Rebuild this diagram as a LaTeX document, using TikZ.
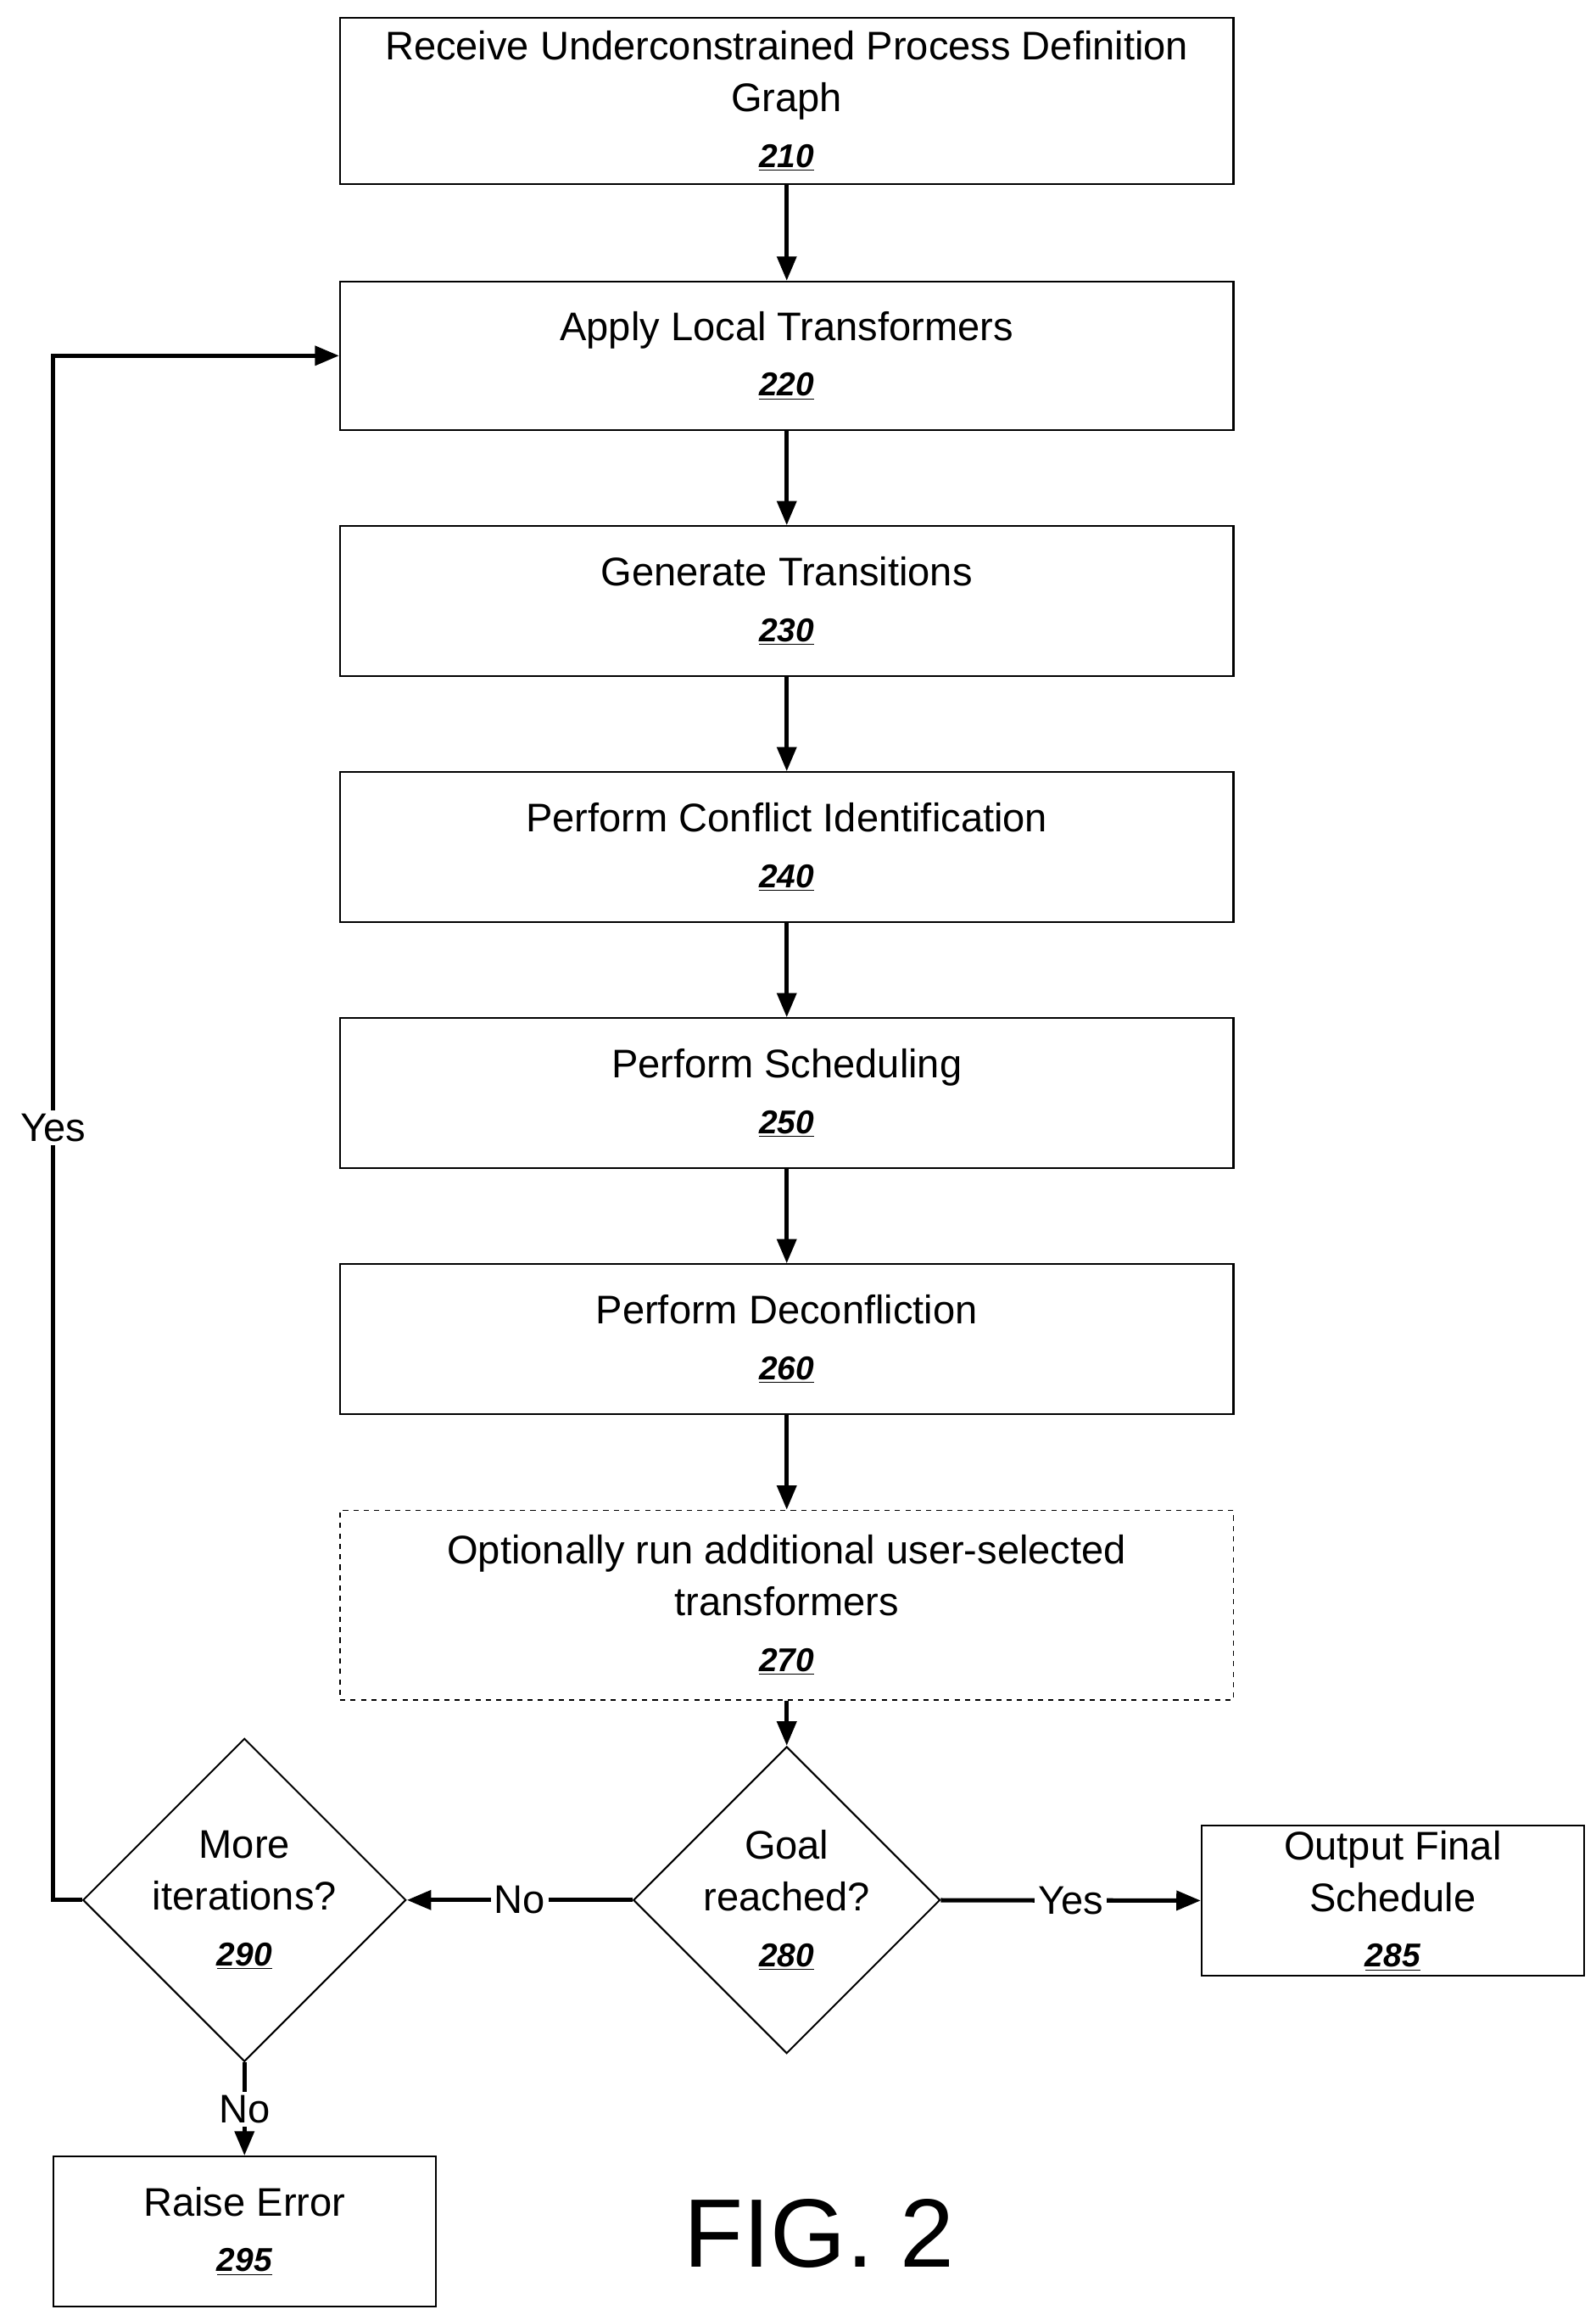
\documentclass[tikz,border=0pt]{standalone}
\usepackage{fontspec}
\setmainfont{Liberation Sans}
\usetikzlibrary{shapes.geometric,arrows.meta}
\newcommand{\stepnum}[1]{\\[2pt]{\fontsize{19}{22}\selectfont\textbf{\textit{\underline{#1}}}}}
\tikzset{
    stage/.style = {draw, line width=1pt, minimum width=18.09cm, align=center,
        font=\fontsize{23}{30}\selectfont, inner sep=0pt},
    choice/.style = {draw, diamond, line width=1pt, minimum width=5.1cm, minimum height=5.1cm,
        inner sep=0pt, align=center, font=\fontsize{23}{30}\selectfont},
    flow/.style = {-{Triangle[length=14pt,width=11pt]}, line width=2.5pt},
    tag/.style = {fill=white, inner sep=2pt, font=\fontsize{23}{30}\selectfont}
}

\begin{document}
\begin{tikzpicture}[x=0.03cm, y=-0.03cm]
    \useasboundingbox (0,0) rectangle (1077,1562);
    \node[stage, minimum height=3.36cm] (recv) at (531,68) {Receive Underconstrained Process Definition\\Graph\stepnum{210}};
    \node[stage, minimum height=3cm] (local) at (531,240) {Apply Local Transformers\stepnum{220}};
    \node[stage, minimum height=3.03cm] (trans) at (531,405.5) {Generate Transitions\stepnum{230}};
    \node[stage, minimum height=3.03cm] (confl) at (531,571.5) {Perform Conflict Identification\stepnum{240}};
    \node[stage, minimum height=3.03cm] (sched) at (531,737.5) {Perform Scheduling\stepnum{250}};
    \node[stage, minimum height=3.03cm] (decon) at (531,903.5) {Perform Deconfliction\stepnum{260}};
    \node[stage, dashed, line width=0.6pt, minimum height=3.84cm] (extra) at (531,1083) {Optionally run additional user-selected\\transformers\stepnum{270}};
    \node[choice] (goal) at (531,1282) {Goal\\reached?\stepnum{280}};
    \node[choice] (more) at (165,1282) {More\\iterations?\stepnum{290}};
    \node[stage, minimum width=7.74cm, minimum height=3.03cm] (final) at (940,1282.5) {Output Final\\Schedule\stepnum{285}};
    \node[stage, minimum width=7.74cm, minimum height=3.03cm] (error) at (165,1505.5) {Raise Error\stepnum{295}};
    \node[font=\fontsize{56}{60}\selectfont] (fig) at (553,1507) {FIG. 2};

    \draw[flow] (recv) -- (local);
    \draw[flow] (local) -- (trans);
    \draw[flow] (trans) -- (confl);
    \draw[flow] (confl) -- (sched);
    \draw[flow] (sched) -- (decon);
    \draw[flow] (decon) -- (extra);
    \draw[flow] (extra) -- (goal);
    \draw[flow] (goal) -- node[tag] {Yes} (final);
    \draw[flow] (goal) -- node[tag] {No} (more);
    \draw[flow] (more) -- node[tag] {No} (error);
    \draw[flow] (more.west) -- (36,1282) -- node[tag] {Yes} (36,240) -- (local.west);
\end{tikzpicture}
\end{document}
